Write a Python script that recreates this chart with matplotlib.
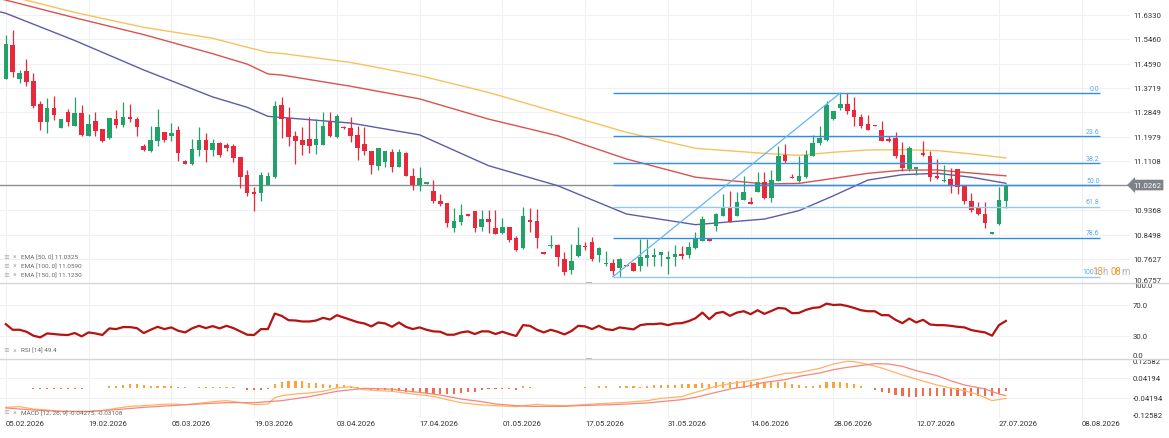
# -*- coding: utf-8 -*-
"""
Daily candles with EMA 50/100/150, Fibonacci retracement, RSI and MACD panels
"""

import numpy as np
import matplotlib
matplotlib.use('Agg')
from matplotlib import pyplot as plt
from matplotlib.lines import Line2D
from matplotlib.patches import Rectangle

plt.rcParams['font.family'] = ['Roboto', 'DejaVu Sans']

# candles (one per bar index)
opens = [11.404, 11.525, 11.404, 11.432, 11.398, 11.315, 11.250, 11.301, 11.228, 11.288,
         11.235, 11.282, 11.200, 11.253, 11.226, 11.193, 11.260, 11.240, 11.270, 11.261,
         11.164, 11.148, 11.184, 11.216, 11.202, 11.222, 11.112, 11.101, 11.152, 11.187,
         11.152, 11.176, 11.169, 11.164, 11.126, 11.062, 11.001, 10.997, 11.026, 11.056,
         11.311, 11.265, 11.202, 11.187, 11.189, 11.170, 11.170, 11.251, 11.196, 11.234,
         11.228, 11.206, 11.172, 11.149, 11.093, 11.107, 11.144, 11.092, 11.140, 11.057,
         11.026, 11.029, 11.004, 10.969, 10.963, 10.872, 10.894, 10.923, 10.933, 10.877,
         10.904, 10.873, 10.854, 10.876, 10.838, 10.801, 10.902, 10.899, 10.787, 10.808,
         10.813, 10.763, 10.725, 10.772, 10.808, 10.822, 10.778, 10.744, 10.747, 10.730,
         10.742, 10.747, 10.736, 10.768, 10.771, 10.777, 10.763, 10.769, 10.781, 10.777,
         10.801, 10.826, 10.834, 10.882, 10.917, 10.949, 10.915, 10.974, 10.967, 11.003,
         11.038, 10.980, 11.042, 11.133, 11.054, 11.042, 11.054, 11.131, 11.175, 11.188,
         11.261, 11.299, 11.314, 11.294, 11.270, 11.244, 11.241, 11.221, 11.190, 11.193,
         11.133, 11.083, 11.083, 11.140, 11.128, 11.060, 11.039, 11.048, 11.083, 11.024,
         10.968, 10.949, 10.923, 10.852, 10.887, 10.971]
highs = [11.561, 11.579, 11.437, 11.475, 11.425, 11.327, 11.335, 11.345, 11.261, 11.297,
         11.339, 11.311, 11.279, 11.285, 11.226, 11.265, 11.294, 11.321, 11.314, 11.267,
         11.172, 11.235, 11.297, 11.216, 11.247, 11.238, 11.114, 11.190, 11.234, 11.210,
         11.190, 11.181, 11.176, 11.172, 11.126, 11.078, 11.018, 11.074, 11.074, 11.326,
         11.339, 11.303, 11.220, 11.232, 11.267, 11.261, 11.285, 11.285, 11.279, 11.235,
         11.267, 11.238, 11.234, 11.149, 11.158, 11.148, 11.155, 11.155, 11.143, 11.086,
         11.092, 11.037, 11.044, 10.996, 10.963, 10.943, 10.959, 10.923, 10.933, 10.937,
         10.937, 10.937, 10.909, 10.876, 10.846, 10.949, 10.943, 10.941, 10.787, 10.848,
         10.816, 10.787, 10.816, 10.876, 10.822, 10.840, 10.804, 10.792, 10.763, 10.765,
         10.742, 10.753, 10.834, 10.834, 10.801, 10.787, 10.792, 10.813, 10.810, 10.825,
         10.860, 10.917, 10.834, 10.926, 10.994, 11.004, 11.003, 11.060, 10.982, 11.072,
         11.072, 11.078, 11.167, 11.171, 11.066, 11.128, 11.151, 11.204, 11.235, 11.327,
         11.291, 11.354, 11.354, 11.341, 11.279, 11.276, 11.241, 11.253, 11.202, 11.216,
         11.181, 11.166, 11.089, 11.184, 11.149, 11.119, 11.098, 11.086, 11.083, 11.024,
         10.997, 10.965, 10.965, 10.860, 11.020, 11.030]
lows = [11.404, 11.410, 11.390, 11.380, 11.300, 11.222, 11.212, 11.259, 11.228, 11.235,
        11.235, 11.200, 11.200, 11.202, 11.181, 11.190, 11.228, 11.232, 11.252, 11.202,
        11.148, 11.143, 11.167, 11.181, 11.184, 11.112, 11.100, 11.099, 11.131, 11.107,
        11.131, 11.125, 11.148, 11.107, 11.016, 10.988, 10.935, 10.968, 11.026, 11.051,
        11.193, 11.167, 11.102, 11.133, 11.140, 11.138, 11.170, 11.196, 11.194, 11.227,
        11.181, 11.117, 11.134, 11.067, 11.080, 11.089, 11.073, 11.089, 11.057, 11.010,
        11.006, 11.029, 10.962, 10.950, 10.876, 10.858, 10.884, 10.917, 10.860, 10.861,
        10.855, 10.851, 10.851, 10.822, 10.792, 10.798, 10.858, 10.801, 10.781, 10.801,
        10.739, 10.706, 10.708, 10.769, 10.796, 10.757, 10.751, 10.739, 10.704, 10.700,
        10.736, 10.721, 10.721, 10.736, 10.736, 10.739, 10.709, 10.739, 10.763, 10.765,
        10.798, 10.826, 10.827, 10.861, 10.917, 10.894, 10.915, 10.974, 10.959, 11.000,
        10.977, 10.965, 11.040, 11.104, 11.050, 11.036, 11.051, 11.128, 11.170, 11.184,
        11.259, 11.295, 11.279, 11.235, 11.228, 11.221, 11.238, 11.182, 11.178, 11.122,
        11.077, 11.077, 11.062, 11.128, 11.042, 11.048, 11.036, 10.997, 10.994, 10.959,
        10.929, 10.919, 10.872, 10.852, 10.885, 10.943]
closes = [11.529, 11.430, 11.425, 11.392, 11.309, 11.250, 11.301, 11.276, 11.261, 11.252,
          11.282, 11.205, 11.244, 11.220, 11.183, 11.265, 11.240, 11.269, 11.261, 11.234,
          11.150, 11.187, 11.234, 11.188, 11.212, 11.142, 11.102, 11.155, 11.187, 11.152,
          11.176, 11.133, 11.159, 11.124, 11.056, 10.997, 10.996, 11.062, 11.060, 11.308,
          11.261, 11.199, 11.183, 11.170, 11.165, 11.191, 11.237, 11.201, 11.273, 11.228,
          11.202, 11.158, 11.146, 11.098, 11.158, 11.148, 11.089, 11.143, 11.060, 11.026,
          11.050, 11.037, 10.969, 10.958, 10.890, 10.897, 10.920, 10.917, 10.872, 10.904,
          10.894, 10.852, 10.876, 10.832, 10.795, 10.915, 10.896, 10.836, 10.781, 10.813,
          10.769, 10.718, 10.755, 10.814, 10.804, 10.761, 10.801, 10.747, 10.721, 10.762,
          10.736, 10.721, 10.771, 10.778, 10.777, 10.787, 10.771, 10.781, 10.775, 10.804,
          10.834, 10.905, 10.827, 10.923, 10.949, 10.894, 10.967, 11.000, 10.959, 11.036,
          10.979, 11.044, 11.131, 11.113, 11.050, 11.060, 11.133, 11.176, 11.193, 11.311,
          11.289, 11.314, 11.291, 11.267, 11.238, 11.223, 11.238, 11.184, 11.184, 11.128,
          11.087, 11.157, 11.089, 11.133, 11.054, 11.050, 11.044, 11.024, 11.018, 10.971,
          10.937, 10.923, 10.891, 10.860, 10.973, 11.0262]

# moving averages read at some bar indices
ema_idx = [-1, 0, 10, 20, 30, 35, 38, 40, 50, 60, 70, 80, 90, 100, 110, 115, 120, 125, 130, 135, 140, 145]
ema50 = [11.644, 11.638, 11.541, 11.436, 11.340, 11.303, 11.271, 11.267, 11.247, 11.205, 11.095,
         11.024, 10.923, 10.885, 10.905, 10.935, 10.988, 11.044, 11.063, 11.068, 11.054, 11.0325]
ema100 = [11.691, 11.685, 11.622, 11.562, 11.494, 11.457, 11.422, 11.418, 11.378, 11.333, 11.261,
          11.202, 11.119, 11.054, 11.030, 11.032, 11.050, 11.068, 11.079, 11.080, 11.069, 11.0590]
ema150 = [11.710, 11.703, 11.641, 11.588, 11.549, 11.517, 11.499, 11.495, 11.463, 11.416, 11.356,
          11.285, 11.214, 11.157, 11.139, 11.132, 11.143, 11.151, 11.152, 11.149, 11.137, 11.1230]

rsi = [45.2, 37.8, 37.8, 35.2, 30.0, 27.8, 33.0, 32.2, 31.3, 30.9,
       33.5, 29.1, 34.3, 33.0, 30.9, 39.6, 38.7, 41.3, 41.3, 40.0,
       33.5, 37.8, 41.7, 38.7, 40.9, 36.5, 34.3, 39.6, 43.0, 40.0,
       42.6, 39.6, 43.0, 40.0, 35.7, 31.3, 30.9, 38.7, 38.7, 59.1,
       56.1, 50.4, 50.0, 48.7, 48.7, 50.0, 53.5, 51.3, 57.0, 53.9,
       50.9, 47.8, 46.1, 42.2, 47.4, 46.1, 41.7, 47.4, 41.7, 38.7,
       40.9, 37.8, 35.7, 35.2, 31.3, 31.3, 34.3, 35.7, 32.2, 35.7,
       35.7, 32.2, 35.2, 32.2, 29.6, 43.9, 43.0, 37.8, 34.3, 37.8,
       35.2, 31.7, 36.1, 43.0, 42.2, 38.7, 43.0, 38.7, 37.4, 40.9,
       39.6, 38.3, 43.9, 45.2, 45.2, 46.1, 43.9, 46.1, 46.5, 49.1,
       53.0, 60.4, 51.7, 59.6, 61.3, 56.1, 60.4, 62.2, 58.3, 63.5,
       58.7, 62.6, 66.5, 65.7, 59.6, 60.0, 63.9, 66.5, 67.4, 72.2,
       70.4, 70.9, 69.1, 66.5, 63.5, 62.2, 62.2, 57.0, 57.0, 50.9,
       46.5, 52.6, 47.4, 50.9, 44.8, 43.9, 43.9, 43.0, 41.7, 40.9,
       37.4, 35.7, 34.3, 30.0, 43.9, 49.4]

macd_idx = [0, 2, 4, 6, 8, 10, 12, 14, 16, 18, 20, 22, 24, 26, 28, 30, 32, 34, 36, 38,
            39, 40, 42, 44, 46, 48, 50, 52, 54, 56, 59, 62, 64, 66, 69, 71, 74, 75, 77, 78,
            81, 83, 86, 88, 90, 93, 95, 98, 100, 103, 105, 108, 110, 113, 115, 118, 120, 122, 123, 125,
            127, 130, 132, 135, 137, 139, 141, 143, 145]
macd = [-0.0807, -0.0779, -0.0877, -0.0920, -0.0976, -0.0990, -0.0990, -0.0948, -0.0849, -0.0765,
        -0.0736, -0.0694, -0.0666, -0.0694, -0.0638, -0.0567, -0.0525, -0.0595, -0.0694, -0.0666,
        -0.0400, -0.0314, -0.0243, -0.0201, -0.0130, 0.0011, 0.0067, -0.0060, -0.0102, -0.0130,
        -0.0243, -0.0342, -0.0483, -0.0610, -0.0708, -0.0736, -0.0778, -0.0736, -0.0680, -0.0708,
        -0.0736, -0.0708, -0.0652, -0.0624, -0.0595, -0.0525, -0.0426, -0.0356, -0.0173, 0.0081,
        0.0194, 0.0320, 0.0433, 0.0630, 0.0659, 0.0842, 0.1025, 0.1138, 0.1124, 0.1011,
        0.0856, 0.0560, 0.0391, 0.0137, 0.0011, -0.0102, -0.0271, -0.0525, -0.04275]
signal_idx = [0, 4, 8, 12, 16, 20, 24, 28, 32, 36, 40, 44, 48, 52, 56, 59, 62, 64, 66, 69,
              71, 74, 76, 78, 81, 83, 86, 88, 90, 93, 95, 98, 100, 103, 105, 108, 110, 113, 115, 118,
              120, 122, 125, 126, 128, 130, 132, 135, 137, 139, 142, 144, 145]
signal = [-0.0835, -0.0920, -0.0976, -0.0976, -0.0905, -0.0807, -0.0736, -0.0666, -0.0610, -0.0610,
          -0.0525, -0.0356, -0.0130, -0.0004, -0.0040, -0.0144, -0.0243, -0.0342, -0.0455, -0.0567,
          -0.0666, -0.0736, -0.0765, -0.0765, -0.0765, -0.0736, -0.0708, -0.0694, -0.0666, -0.0624,
          -0.0567, -0.0483, -0.0384, -0.0173, -0.0032, 0.0109, 0.0250, 0.0363, 0.0504, 0.0645,
          0.0786, 0.0884, 0.1000, 0.1040, 0.1025, 0.0927, 0.0743, 0.0532, 0.0320, 0.0137,
          -0.0032, -0.0243, -0.03108]
hist = [0.0014, 0.0028, 0.0028, 0.0028, -0.0014, -0.0028, -0.0028, -0.0028, -0.0028, -0.0028,
        -0.0028, -0.0028, 0.0003, 0.0014, 0.0014, 0.0085, 0.0113, 0.0155, 0.0183, 0.0183,
        0.0141, 0.0113, 0.0113, 0.0099, 0.0085, 0.0070, 0.0042, 0.0028, 0.0056, 0.0056,
        0.0056, 0.0056, 0.0070, 0.0042, 0.0014, -0.0056, -0.0070, -0.0056, -0.0042, 0.0183,
        0.0254, 0.0296, 0.0296, 0.0296, 0.0226, 0.0211, 0.0183, 0.0155, 0.0183, 0.0155,
        0.0113, 0.0070, -0.0042, -0.0056, -0.0070, -0.0085, -0.0099, -0.0113, -0.0141, -0.0169,
        -0.0183, -0.0211, -0.0226, -0.0240, -0.0240, -0.0240, -0.0211, -0.0169, -0.0141, -0.0085,
        -0.0028, -0.0014, -0.0014, -0.0014, -0.0056, 0.0085, 0.0070, 0.0028, 0.0014, 0.0028,
        0.0014, 0.0014, 0.0014, 0.0014, 0.0056, 0.0028, 0.0113, 0.0085, 0.0028, 0.0085,
        0.0085, 0.0085, 0.0070, 0.0113, 0.0141, 0.0141, 0.0141, 0.0141, 0.0169, 0.0169,
        0.0183, 0.0226, 0.0183, 0.0254, 0.0282, 0.0254, 0.0324, 0.0324, 0.0254, 0.0254,
        0.0226, 0.0254, 0.0254, 0.0254, 0.0183, 0.0141, 0.0113, 0.0113, 0.0141, 0.0254,
        0.0282, 0.0254, 0.0226, 0.0169, 0.0085, 0.0014, -0.0070, -0.0141, -0.0211, -0.0268,
        -0.0338, -0.0352, -0.0352, -0.0338, -0.0338, -0.0338, -0.0338, -0.0310, -0.0310, -0.0310,
        -0.0310, -0.0338, -0.0310, -0.0338, -0.0240, -0.0117]

date_idx = [0, 12, 24, 36, 48, 60, 72, 84, 96, 108, 120, 132, 144, 156]
date_labels = ['05.02.2026', '19.02.2026', '05.03.2026', '19.03.2026', '03.04.2026', '17.04.2026',
               '01.05.2026', '17.05.2026', '31.05.2026', '14.06.2026', '28.06.2026', '12.07.2026',
               '27.07.2026', '08.08.2026']
price_ticks = [11.6330, 11.5460, 11.4590, 11.3719, 11.2849, 11.1979, 11.1108,
               10.9368, 10.8498, 10.7627, 10.6757]
last_price = 11.0262

fib_low_idx, fib_high_idx = 88, 121
fib_low, fib_high = 10.699, 11.354
fib_levels = [0.0, 23.6, 38.2, 50.0, 61.8, 78.6, 100.0]
fib_end = 158.6

GREEN = '#21a269'
RED = '#e8283b'
GRID = '#f0f0f0'
TXT = '#333333'

W, H = 1169, 439
fig = plt.figure(figsize=(W / 100, H / 100), dpi=100)
def fy(y):
  return 1 - y / H
pw = 1130 / W
ax = fig.add_axes([0, fy(283.5), pw, 283.5 / H])
ax_rsi = fig.add_axes([0, fy(359.5), pw, 76 / H], sharex=ax)
ax_macd = fig.add_axes([0, fy(419), pw, 59.5 / H], sharex=ax)

for a in (ax, ax_rsi, ax_macd):
  for s in a.spines.values():
    s.set_visible(False)
  a.tick_params(left=False, right=False, bottom=False, top=False,
                labelleft=False, labelright=False, labelbottom=False)
  for d in date_idx:
    a.axvline(d, color=GRID, lw=0.8, zorder=0)

ax.set_xlim(-0.841, 163.0)
ax.set_ylim(10.679, 11.6889)
ax_rsi.set_ylim(0, 100)
ax_macd.set_ylim(-0.12582, 0.12582)

def rlabel(a, y, s, va='center', **kw):
  a.text(1.0027, y, s, transform=a.get_yaxis_transform(), ha='left', va=va,
         fontsize=5.6, color=TXT, clip_on=False, **kw)

# ---- main price panel
for p in price_ticks:
  ax.axhline(p, color=GRID, lw=0.8, zorder=0)
for p in price_ticks[:-1]:
  rlabel(ax, p, '%.4f' % p)
rlabel(ax, price_ticks[-1], '%.4f' % price_ticks[-1], va='bottom')

o = np.array(opens); h = np.array(highs); l = np.array(lows); c = np.array(closes)
idx = np.arange(len(c))
cols = np.where(c >= o, GREEN, RED)
ax.vlines(idx, l, h, colors=cols, lw=0.9, zorder=3)
ax.bar(idx, np.maximum(np.abs(c - o), 0.0025), bottom=np.minimum(o, c), width=0.66,
       color=cols, lw=0, zorder=4)

ax.plot(ema_idx, ema150, color='#f7c25c', lw=1.0, zorder=2)
ax.plot(ema_idx, ema100, color='#d9534f', lw=1.0, zorder=2)
ax.plot(ema_idx, ema50, color='#5b5ea6', lw=1.0, zorder=2)

# fibonacci retracement
for lv in fib_levels:
  p = fib_high - lv / 100 * (fib_high - fib_low)
  col = '#90c8f6' if lv in (61.8, 100.0) else '#2f8fe6'
  ax.hlines(p, fib_low_idx, fib_end, color=col, lw=1.0, zorder=5)
  ax.annotate('%.1f' % lv, (fib_end, p), xytext=(0, 1), textcoords='offset points',
              ha='right', va='bottom', fontsize=5, color='#5aa9f0')
ax.plot([fib_low_idx, fib_high_idx], [fib_low, fib_high], color='#64b5f6', lw=0.9, zorder=5)

# last price
ax.axhline(last_price, color='#8a9095', lw=1.0, zorder=1)
ax.text(1.0027, last_price, '%.4f' % last_price, transform=ax.get_yaxis_transform(),
        ha='left', va='center', fontsize=5.6, color='white', clip_on=False,
        bbox=dict(boxstyle='larrow,pad=0.3', fc='#7d8388', ec='none'))

# countdown
t = ax.text(0.9664, 0.03, '13', transform=ax.transAxes, fontsize=7, color='#f7931a',
            ha='left', va='baseline')
for s, col in (('h ', '#b9b2aa'), ('08', '#f7931a'), ('m', '#b9b2aa')):
  t = ax.annotate(s, xy=(1, 0), xycoords=t, fontsize=7, color=col, ha='left', va='bottom')

# legend
ema_legend = ['EMA [50, 0] 11.0325', 'EMA [100, 0] 11.0590', 'EMA [150, 0] 11.1230']
for k, s in enumerate(ema_legend):
  yy = 0.0924 - k * 0.0322
  ax.text(0.0027, yy, '\u2261', transform=ax.transAxes, fontsize=5, color='#aaaaaa', va='center')
  ax.text(0.0115, yy, '\u00d7', transform=ax.transAxes, fontsize=5, color='#aaaaaa', va='center')
  ax.text(0.0183, yy, s, transform=ax.transAxes, fontsize=4.6, color='#666666', va='center')

# ---- RSI panel
for v in (70, 30):
  ax_rsi.axhline(v, color=GRID, lw=0.8, zorder=0)
ax_rsi.plot(idx, rsi, color='#b51212', lw=1.6)
rlabel(ax_rsi, 100, '100.0', va='top')
rlabel(ax_rsi, 70, '70.0')
rlabel(ax_rsi, 30, '30.0')
rlabel(ax_rsi, 0, '0.0', va='bottom')
ax_rsi.text(0.0027, 0.112, '\u2261', transform=ax_rsi.transAxes, fontsize=5, color='#aaaaaa', va='center')
ax_rsi.text(0.0115, 0.112, '\u00d7', transform=ax_rsi.transAxes, fontsize=5, color='#aaaaaa', va='center')
ax_rsi.text(0.0183, 0.112, 'RSI [14] 49.4', transform=ax_rsi.transAxes, fontsize=4.6,
            color='#666666', va='center')

# ---- MACD panel
for v in (0.04194, -0.04194):
  ax_macd.axhline(v, color=GRID, lw=0.8, zorder=0)
hv = np.array(hist)
ax_macd.bar(idx, hv, width=0.32, color=np.where(hv >= 0, '#ffa23a', '#f26b4f'), lw=0)
ax_macd.plot(macd_idx, macd, color='#ffb366', lw=0.9)
ax_macd.plot(signal_idx, signal, color='#f4887a', lw=0.9)
rlabel(ax_macd, 0.12582, '0.12582', va='top')
rlabel(ax_macd, 0.04194, '0.04194')
rlabel(ax_macd, -0.04194, '-0.04194')
rlabel(ax_macd, -0.12582, '-0.12582', va='bottom')
ax_macd.text(0.0027, 0.096, '\u2261', transform=ax_macd.transAxes, fontsize=5, color='#aaaaaa', va='center')
ax_macd.text(0.0115, 0.096, '\u00d7', transform=ax_macd.transAxes, fontsize=5, color='#aaaaaa', va='center')
ax_macd.text(0.0183, 0.096, 'MACD [12, 26, 9] -0.04275, -0.03108', transform=ax_macd.transAxes,
             fontsize=4.6, color='#666666', va='center')

for d, s in zip(date_idx, date_labels):
  ax_macd.text(d, -0.03, s, transform=ax_macd.get_xaxis_transform(), ha='left', va='top',
               fontsize=5.6, color=TXT, clip_on=False)

# panel separators and drag handles
for yy in (283.5, 359.5):
  fig.add_artist(Line2D([0, 1], [fy(yy), fy(yy)], color='#d6d6d6', lw=1.0))
  fig.add_artist(Rectangle((586.5 / W, fy(yy + 1.2)), 6 / W, 2 / H, color='#b5b5b5', lw=0))

fig.savefig('out.png', dpi=100)
